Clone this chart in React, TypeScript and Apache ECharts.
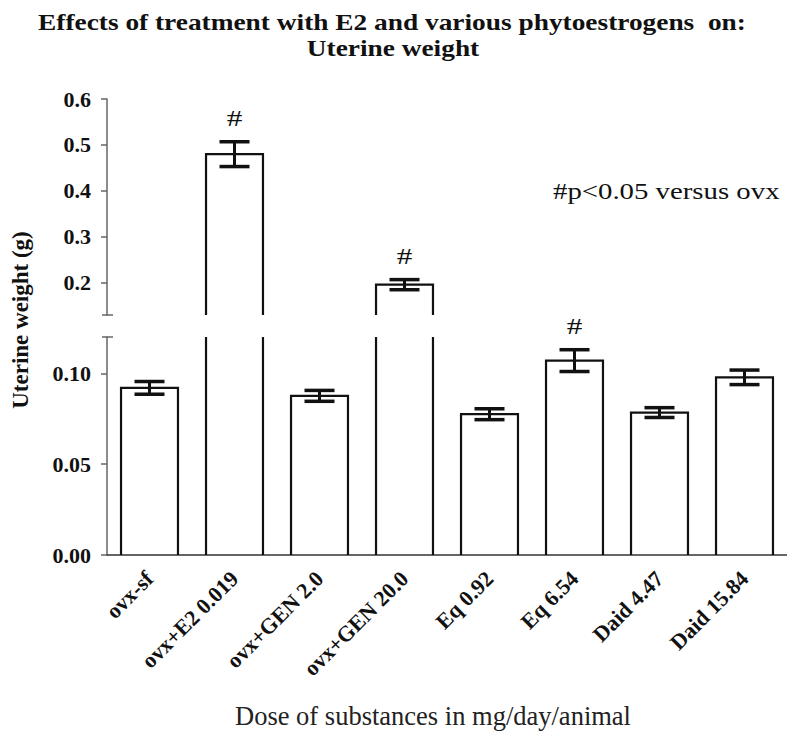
import { useEffect, useRef } from 'react';
import * as echarts from 'echarts';

// Treatment groups and uterine weight (g), mean ± SEM
const categories = [
  'ovx-sf',
  'ovx+E2 0.019',
  'ovx+GEN 2.0',
  'ovx+GEN 20.0',
  'Eq 0.92',
  'Eq 6.54',
  'Daid 4.47',
  'Daid 15.84',
];
const means = [0.092, 0.48, 0.0876, 0.196, 0.0775, 0.107, 0.0784, 0.0978];
const sems = [0.0035, 0.027, 0.003, 0.011, 0.003, 0.006, 0.0027, 0.004];
// '#' marks groups with p < 0.05 versus ovx
const significant = [false, true, false, true, false, true, false, false];

// Broken y axis: upper and lower segments
const upperRange = [0.13, 0.6];
const lowerRange = [0, 0.12];
const upperTicks = [0.2, 0.3, 0.4, 0.5, 0.6];
const lowerTicks = [0, 0.05, 0.1];

const SERIF = "'Liberation Serif', 'Times New Roman', serif";
const INK = '#111';
const BAR_RATIO = 0.67;
const GRID_LEFT = 107;

function makeBarRenderer(lo: number, hi: number) {
  return (_params: any, api: any) => {
    const idx = api.value(0);
    const v = api.value(1);
    if (v <= lo) return null;
    const top = api.coord([idx, Math.min(v, hi)]);
    const base = api.coord([idx, lo]);
    const w = api.size([1, 0])[0] * BAR_RATIO;
    const x0 = top[0] - w / 2;
    const x1 = top[0] + w / 2;
    const style = { stroke: INK, lineWidth: 2.2, fill: 'none' };
    if (v > hi) {
      // bar continues past the break: sides only
      return {
        type: 'group',
        children: [
          { type: 'line', shape: { x1: x0, y1: base[1], x2: x0, y2: top[1] }, style },
          { type: 'line', shape: { x1: x1, y1: base[1], x2: x1, y2: top[1] }, style },
        ],
      };
    }
    return {
      type: 'polyline',
      shape: { points: [[x0, base[1]], [x0, top[1]], [x1, top[1]], [x1, base[1]]] },
      style,
    };
  };
}

function makeErrorRenderer(lo: number, hi: number) {
  return (_params: any, api: any) => {
    const idx = api.value(0);
    const m = api.value(1);
    const e = api.value(2);
    const sig = api.value(3);
    if (m < lo || m > hi) return null;
    const pTop = api.coord([idx, m + e]);
    const pBot = api.coord([idx, m - e]);
    const x = pTop[0];
    const half = 15;
    const children: any[] = [
      { type: 'line', shape: { x1: x, y1: pTop[1], x2: x, y2: pBot[1] }, style: { stroke: INK, lineWidth: 3 } },
      { type: 'line', shape: { x1: x - half, y1: pTop[1], x2: x + half, y2: pTop[1] }, style: { stroke: INK, lineWidth: 3.5 } },
      { type: 'line', shape: { x1: x - half, y1: pBot[1], x2: x + half, y2: pBot[1] }, style: { stroke: INK, lineWidth: 3.5 } },
    ];
    if (sig) {
      children.push({
        type: 'text',
        x,
        y: pTop[1] - 12,
        scaleX: 1.3,
        style: {
          text: '#',
          fontSize: 24,
          fontFamily: SERIF,
          fill: INK,
          align: 'center',
          verticalAlign: 'bottom',
        },
      });
    }
    return { type: 'group', children };
  };
}

export default function App() {
  const ref = useRef<HTMLDivElement>(null);

  useEffect(() => {
    if (!ref.current) return;
    const chart = echarts.init(ref.current, null, { renderer: 'svg' });

    const barData = means.map((v, i) => [i, v]);
    const errData = means.map((v, i) => [i, v, sems[i], significant[i] ? 1 : 0]);

    const yLabel = {
      fontFamily: SERIF,
      fontWeight: 'bold' as const,
      fontSize: 22,
      color: INK,
      margin: 16,
    };
    const yLine = { show: true, lineStyle: { color: '#666', width: 1.5 } };

    chart.setOption({
      animation: false,
      backgroundColor: '#fff',
      grid: [
        { left: GRID_LEFT, right: -5, top: 99, height: 216 },
        { left: GRID_LEFT, right: -5, top: 337, height: 218 },
      ],
      xAxis: [
        {
          type: 'category',
          gridIndex: 0,
          data: categories,
          show: false,
        },
        {
          type: 'category',
          gridIndex: 1,
          data: categories,
          axisLine: { lineStyle: { color: '#333', width: 1.5 } },
          axisTick: { alignWithLabel: true, length: 5, lineStyle: { color: '#555', width: 1.2 } },
          axisLabel: {
            interval: 0,
            rotate: 45,
            margin: 20,
            fontFamily: SERIF,
            fontWeight: 'bold',
            fontSize: 22,
            color: INK,
          },
        },
      ],
      yAxis: [
        {
          type: 'value',
          gridIndex: 0,
          min: upperRange[0],
          max: upperRange[1],
          axisLine: yLine,
          axisTick: { show: true, length: 6, customValues: upperTicks, lineStyle: { color: '#666', width: 1.5 } },
          axisLabel: { ...yLabel, customValues: upperTicks, formatter: (v: number) => v.toFixed(1) },
          splitLine: { show: false },
        },
        {
          type: 'value',
          gridIndex: 1,
          min: lowerRange[0],
          max: lowerRange[1],
          axisLine: yLine,
          axisTick: { show: true, length: 6, customValues: lowerTicks, lineStyle: { color: '#666', width: 1.5 } },
          axisLabel: { ...yLabel, customValues: lowerTicks, formatter: (v: number) => v.toFixed(2) },
          splitLine: { show: false },
        },
      ],
      series: [
        {
          type: 'custom',
          xAxisIndex: 0,
          yAxisIndex: 0,
          data: barData,
          renderItem: makeBarRenderer(upperRange[0], upperRange[1]),
          encode: { x: 0, y: 1 },
        },
        {
          type: 'custom',
          xAxisIndex: 1,
          yAxisIndex: 1,
          data: barData,
          renderItem: makeBarRenderer(lowerRange[0], lowerRange[1]),
          encode: { x: 0, y: 1 },
        },
        {
          type: 'custom',
          xAxisIndex: 0,
          yAxisIndex: 0,
          data: errData,
          renderItem: makeErrorRenderer(upperRange[0], upperRange[1]),
          encode: { x: 0, y: 1 },
        },
        {
          type: 'custom',
          xAxisIndex: 1,
          yAxisIndex: 1,
          data: errData,
          renderItem: makeErrorRenderer(lowerRange[0], lowerRange[1]),
          encode: { x: 0, y: 1 },
        },
      ],
    });

    // End caps marking the axis break
    const upperEnd = chart.convertToPixel({ yAxisIndex: 0 }, upperRange[0]) as number;
    const lowerEnd = chart.convertToPixel({ yAxisIndex: 1 }, lowerRange[1]) as number;
    const capStyle = { stroke: '#666', lineWidth: 1.5 };

    chart.setOption({
      graphic: [
        { type: 'line', shape: { x1: GRID_LEFT - 5, y1: upperEnd, x2: GRID_LEFT + 6, y2: upperEnd }, style: capStyle },
        { type: 'line', shape: { x1: GRID_LEFT - 5, y1: lowerEnd, x2: GRID_LEFT + 6, y2: lowerEnd }, style: capStyle },
        {
          type: 'text',
          x: 392,
          y: 22,
          scaleX: 1.19,
          style: {
            text: 'Effects of treatment with E2 and various phytoestrogens  on:',
            fontFamily: SERIF,
            fontWeight: 'bold',
            fontSize: 23,
            fill: INK,
            align: 'center',
            verticalAlign: 'middle',
          },
        },
        {
          type: 'text',
          x: 393,
          y: 48,
          scaleX: 1.19,
          style: {
            text: 'Uterine weight',
            fontFamily: SERIF,
            fontWeight: 'bold',
            fontSize: 23,
            fill: INK,
            align: 'center',
            verticalAlign: 'middle',
          },
        },
        {
          type: 'text',
          x: 20,
          y: 320,
          rotation: Math.PI / 2,
          style: {
            text: 'Uterine weight (g)',
            fontFamily: SERIF,
            fontWeight: 'bold',
            fontSize: 23,
            fill: INK,
            align: 'center',
            verticalAlign: 'middle',
          },
        },
        {
          type: 'text',
          x: 553,
          y: 191,
          scaleX: 1.2,
          style: {
            text: '#p<0.05 versus ovx',
            fontFamily: SERIF,
            fontSize: 24,
            fill: INK,
            align: 'left',
            verticalAlign: 'middle',
          },
        },
        {
          type: 'text',
          x: 433,
          y: 716,
          style: {
            text: 'Dose of substances in mg/day/animal',
            fontFamily: SERIF,
            fontSize: 26.5,
            fill: '#222',
            align: 'center',
            verticalAlign: 'middle',
          },
        },
      ],
    });

    return () => chart.dispose();
  }, []);

  return (
    <div
      ref={ref}
      style={{ position: 'absolute', left: 0, top: 0, width: 787, height: 733, background: '#fff' }}
    />
  );
}
